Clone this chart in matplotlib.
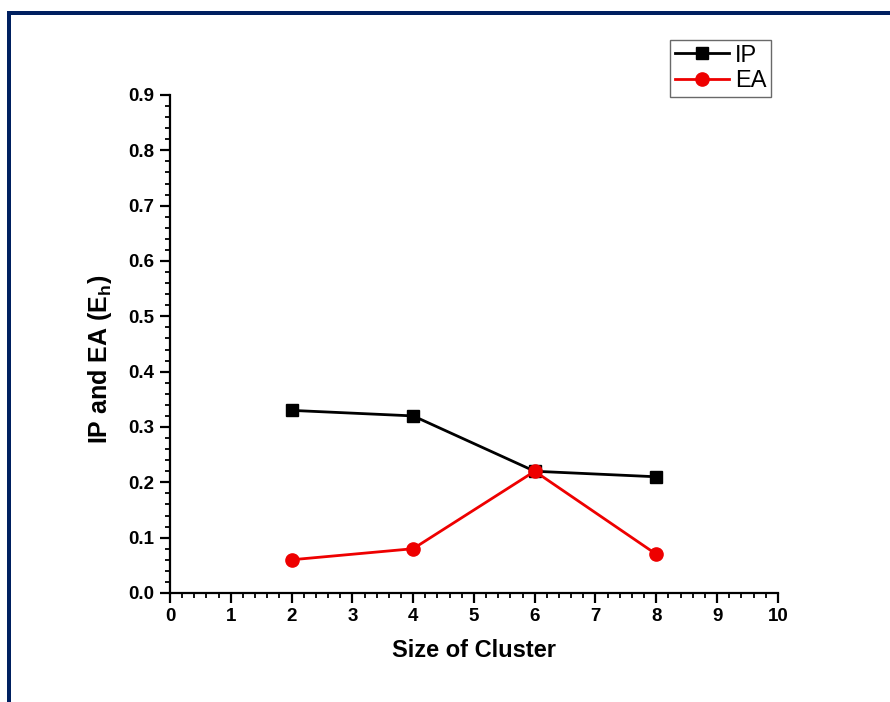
import matplotlib
matplotlib.use("Agg")
import matplotlib.pyplot as plt
from matplotlib.patches import Rectangle
from matplotlib.ticker import MultipleLocator

plt.rcParams['font.family'] = ['Liberation Sans', 'DejaVu Sans']
plt.rcParams['mathtext.fontset'] = 'custom'
plt.rcParams['mathtext.rm'] = 'Liberation Sans'
plt.rcParams['mathtext.bf'] = 'Liberation Sans:bold'

# --- data
cluster_size = [2, 4, 6, 8]
ip = [0.33, 0.32, 0.22, 0.21]
ea = [0.06, 0.08, 0.22, 0.07]

fig = plt.figure(figsize=(8.9, 7.02), dpi=100)
ax = fig.add_axes([0.191, 0.1553, 0.683, 0.7094])

ax.plot(cluster_size, ip, color="black", marker="s", markersize=8, linewidth=2, label="IP")
ax.plot(cluster_size, ea, color="#ee0000", marker="o", markersize=9.5, linewidth=2, label="EA")

ax.set_xlim(0, 10)
ax.set_ylim(0, 0.9)
ax.xaxis.set_major_locator(MultipleLocator(1))
ax.xaxis.set_minor_locator(MultipleLocator(0.2))
ax.yaxis.set_minor_locator(MultipleLocator(0.02))
ax.set_yticks([round(0.1 * i, 1) for i in range(10)])
ax.set_yticklabels(["%.1f" % (0.1 * i) for i in range(10)])

for s in ["top", "right"]:
    ax.spines[s].set_visible(False)
for s in ["left", "bottom"]:
    ax.spines[s].set_linewidth(1.6)
ax.tick_params(which="major", length=7, width=1.6, labelsize=13.5, pad=4)
ax.tick_params(which="minor", length=3.5, width=1.3)
for lab in ax.get_xticklabels() + ax.get_yticklabels():
    lab.set_fontweight("bold")

ax.set_xlabel("Size of Cluster", fontsize=17, fontweight="bold", labelpad=10)
ax.set_ylabel(r"IP and EA (E$_\mathbf{h}$)", fontsize=18, fontweight="bold")
ax.yaxis.set_label_coords(-0.092, 0.47)

leg = fig.legend(loc="upper left", bbox_to_anchor=(0.753, 0.943), bbox_transform=fig.transFigure,
                 fontsize=17, frameon=True, fancybox=False, borderaxespad=0,
                 handlelength=2.3, handletextpad=0.25, borderpad=0.2, labelspacing=0.15)
leg.get_frame().set_edgecolor("#444444")
leg.get_frame().set_linewidth(1.0)

# navy frame on top and left edges
navy = "#002060"
fig.add_artist(Rectangle((7 / 890, 0), 4 / 890, 1 - 11 / 702, transform=fig.transFigure,
                         color=navy, linewidth=0))
fig.add_artist(Rectangle((7 / 890, 1 - 15 / 702), 1, 4 / 702, transform=fig.transFigure,
                         color=navy, linewidth=0))

fig.savefig("out.png", dpi=100)
